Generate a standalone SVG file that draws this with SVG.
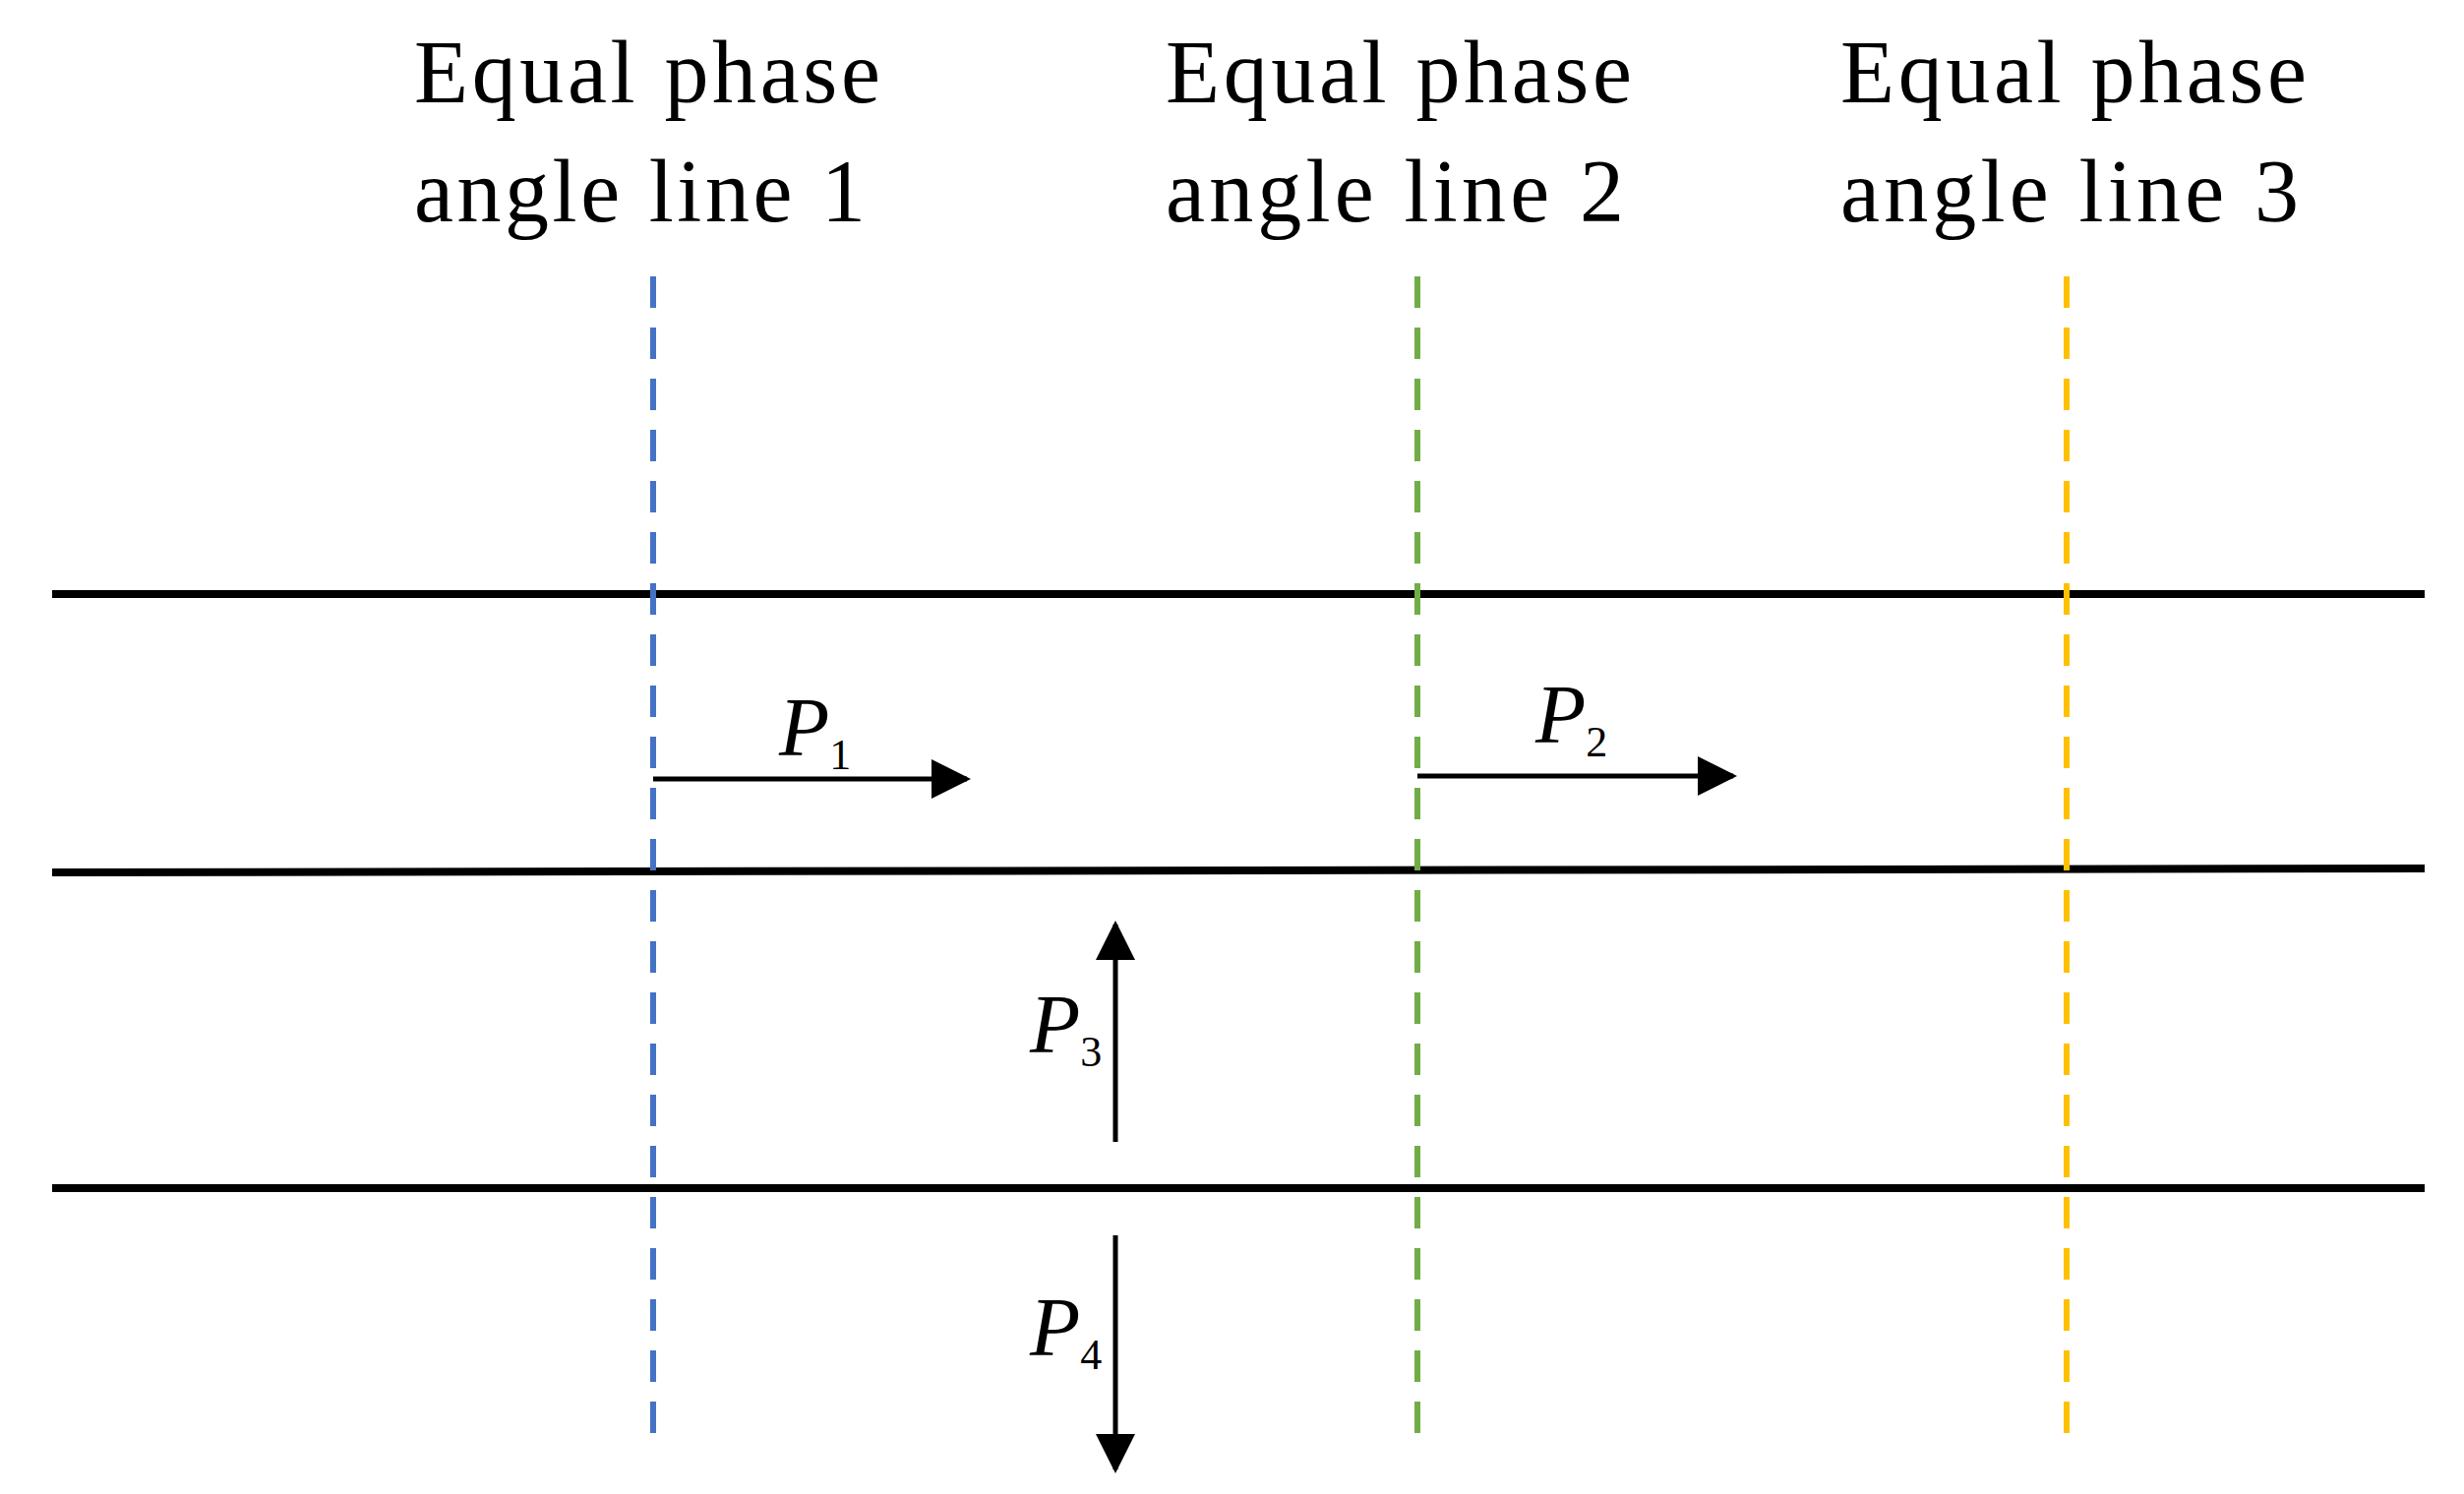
<svg xmlns="http://www.w3.org/2000/svg" width="2505" height="1519" viewBox="0 0 2505 1519">
<style>
.t{font-family:"Liberation Serif","Times New Roman",serif;font-size:90px;fill:#000}
.p{font-family:"Liberation Serif","Times New Roman",serif;font-style:italic;font-size:84px;fill:#000}
.s{font-size:44px;font-style:normal}
.h{stroke:#000;stroke-width:8}
.d{stroke-width:6;stroke-dasharray:32 20;fill:none}
.a{stroke:#000;stroke-width:5;fill:none}
</style>
<defs><marker id="ah" viewBox="0 0 10 10" refX="9" refY="5" markerWidth="9" markerHeight="8" markerUnits="strokeWidth" orient="auto"><path d="M0,0L10,5L0,10z" fill="#000"/></marker></defs>
<g id="lines">
<line class="h" x1="53" y1="604" x2="2465" y2="604"/>
<line class="h" x1="53" y1="887" x2="2465" y2="883"/>
<line class="h" x1="53" y1="1208" x2="2465" y2="1208"/>
</g>
<g id="phase1"><line class="d" stroke="#4472C4" x1="664" y1="281" x2="664" y2="1472"/>
<text class="t" x="421" y="104" textLength="474">Equal phase</text><text class="t" x="421" y="225" textLength="459">angle  line 1</text></g>
<g id="phase2"><line class="d" stroke="#70AD47" x1="1441" y1="281" x2="1441" y2="1472"/>
<text class="t" x="1185" y="104" textLength="474">Equal phase</text><text class="t" x="1185" y="225" textLength="466">angle  line 2</text></g>
<g id="phase3"><line class="d" stroke="#FFC000" x1="2101" y1="281" x2="2101" y2="1472"/>
<text class="t" x="1871" y="104" textLength="474">Equal phase</text><text class="t" x="1871" y="225" textLength="466">angle  line 3</text></g>
<g id="connectors">
<line class="a" x1="664" y1="792" x2="983" y2="792" marker-end="url(#ah)"/>
<line class="a" x1="1441" y1="789" x2="1762" y2="789" marker-end="url(#ah)"/>
<line class="a" x1="1134" y1="1161" x2="1134" y2="940" marker-end="url(#ah)"/>
<line class="a" x1="1134" y1="1256" x2="1134" y2="1494" marker-end="url(#ah)"/>
</g>
<g id="labels">
<text class="p" x="792" y="768">P<tspan class="s" dy="14">1</tspan></text>
<text class="p" x="1561" y="755">P<tspan class="s" dy="14">2</tspan></text>
<text class="p" x="1047" y="1070">P<tspan class="s" dy="14">3</tspan></text>
<text class="p" x="1047" y="1378">P<tspan class="s" dy="14">4</tspan></text>
</g>
</svg>
